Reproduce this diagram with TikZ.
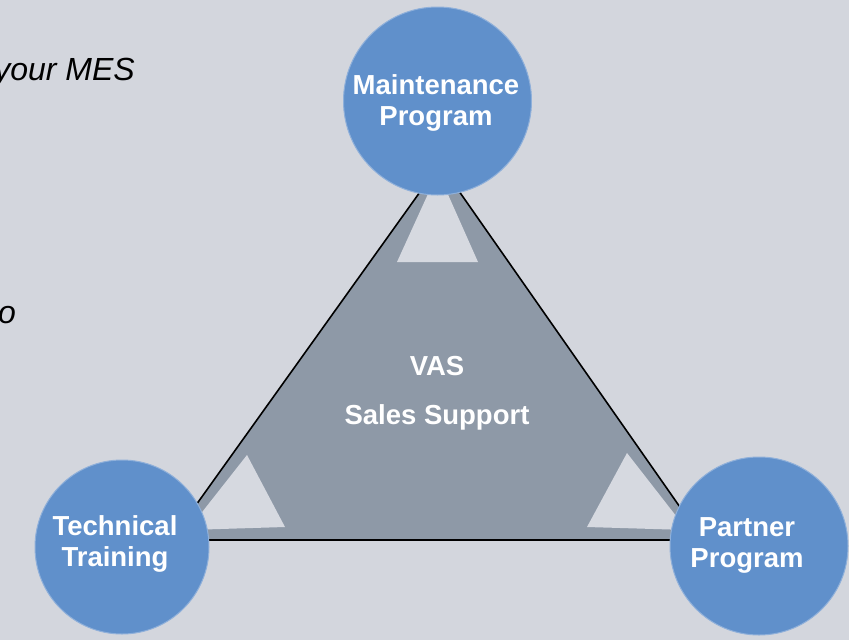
\documentclass[tikz,border=0pt]{standalone}
\usepackage{fontspec}
\setmainfont{Liberation Sans}
\definecolor{bg}{HTML}{D3D6DD}
\definecolor{trigray}{HTML}{8E99A7}
\definecolor{lighttri}{HTML}{D6D9E0}
\definecolor{circblue}{HTML}{6090CB}
\definecolor{circedge}{HTML}{8FB0DA}
\begin{document}
\begin{tikzpicture}[x=1pt,y=-1pt,
  circ/.style={circle, fill=circblue, draw=circedge, line width=1pt, inner sep=0pt},
  ctext/.style={text=white, font=\bfseries\fontsize{27.5}{31}\selectfont, align=center, inner sep=0pt},
  side/.style={text=black, font=\itshape\fontsize{32}{36}\selectfont, inner sep=0pt},
  outline/.style={line width=1.6pt, draw=black}]
\fill[bg] (0,0) rectangle (849,640);
\useasboundingbox (0,0) rectangle (849,640);
% main triangle
\coordinate (A) at (440,164);
\coordinate (B) at (171,540);
\coordinate (C) at (703,540);
\fill[trigray] (A) -- (B) -- (C) -- cycle;
\draw[outline, line join=miter] (A) -- (B) -- (C) -- cycle;
% inner light triangles
\fill[lighttri] (438,172) -- (397,262) -- (478,262) -- cycle;
\fill[lighttri] (247,455) -- (188,530) -- (285,527) -- cycle;
\fill[lighttri] (627,453) -- (587,527) -- (687,530) -- cycle;
% circles
\node[circ, minimum size=188pt] (maint) at (437.5,101) {};
\node[circ, minimum size=174pt] (tech) at (122,547) {};
\node[circ, minimum size=178pt] (partner) at (759,546) {};
% texts
\node[ctext] (mtext) at (436,103) {Maintenance\\Program};
\node[ctext] (ttext) at (115,544) {Technical\\Training};
\node[ctext] (ptext) at (747,545) {Partner\\Program};
\node[ctext] (vas) at (437,366) {VAS};
\node[ctext] (sales) at (437,417) {Sales Support};
\node[side, anchor=base east] (mes) at (135,80) {your MES};
\node[side, anchor=base east] (oo) at (16,323) {o};
\end{tikzpicture}
\end{document}
